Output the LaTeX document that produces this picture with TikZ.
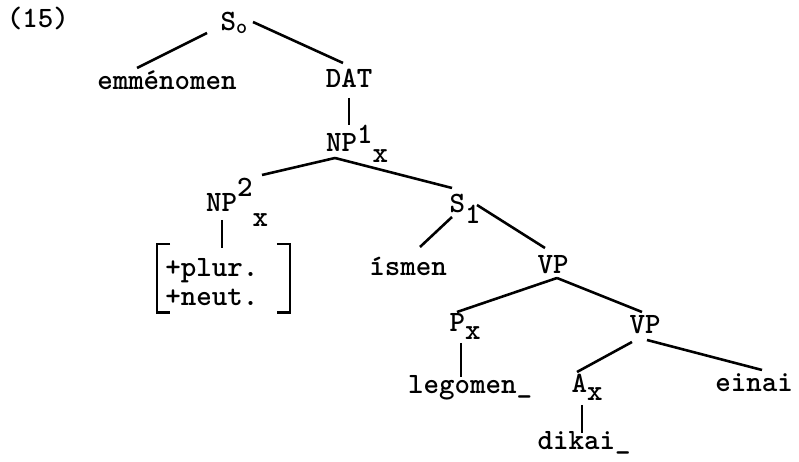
\documentclass[tikz,border=0pt]{standalone}
\usepackage{tikz}
\usetikzlibrary{positioning}

% typewriter style raised/lowered indices
\newcommand{\low}[2][4.3pt]{\raisebox{-#1}{#2}}
\newcommand{\high}[2][3.8pt]{\raisebox{#1}{#2}}

\tikzset{
  cat/.style={anchor=base, inner sep=1pt, font=\fontsize{12.6}{12.2}\selectfont\ttfamily\bfseries},
  branch/.style={line width=1.1pt},
  bracket/.style={line width=1.1pt},
}

\begin{document}
\begin{tikzpicture}[x=0.015cm, y=-0.015cm]
\useasboundingbox (0,0) rectangle (799,462);

\node[cat] (ex) at (38,28) {(15)};

% the tree
\node[cat] (s0) at (234,31) {S\low[1pt]{\small o}};
\node[cat] (emm) at (167,90) {emménomen};
\node[cat] (dat) at (349,88) {DAT};
\node[cat] (np1) at (357,152) {NP\high{1}\low{x}};
\node[cat] (np2) at (237,212) {NP\high[6.4pt]{2}\low[6.4pt]{x}};
\node[cat, anchor=north west, inner sep=0pt, align=left] (feat) at (165,258) {+plur.\\+neut.};
\node[cat] (s1) at (465,213) {S\low{1}};
\node[cat] (ism) at (408,276) {ísmen};
\node[cat] (vp1) at (553,274) {VP};
\node[cat] (px) at (465,332) {P\low[3.4pt]{x}};
\node[cat] (vp2) at (645,334) {VP};
\node[cat] (leg) at (470,394) {legomen\_};
\node[cat] (ax) at (587,393) {A\low[3pt]{x}};
\node[cat] (einai) at (754,392) {einai};
\node[cat] (dikai) at (584,450) {dikai\_};

% branches
\draw[branch] ([shift={(-27,2)}]s0.base) -- ([shift={(-30,-22)}]emm.base);
\draw[branch] ([shift={(19,-9)}]s0.base) -- ([shift={(-6,-25)}]dat.base);
\draw[branch] ([shift={(0,10)}]dat.base) -- ([shift={(-8,-27)}]np1.base);
\draw[branch] ([shift={(-22,6)}]np1.base) -- ([shift={(25,-37)}]np2.base);
\draw[branch] ([shift={(-22,6)}]np1.base) -- ([shift={(-13,-25)}]s1.base);
\draw[branch] ([shift={(-15,8)}]np2.base) -- ([shift={(57,-10)}]feat.north west);
\draw[branch] ([shift={(-13,4)}]s1.base) -- ([shift={(12,-29)}]ism.base);
\draw[branch] ([shift={(12,-8)}]s1.base) -- ([shift={(-8,-26)}]vp1.base);
\draw[branch] ([shift={(4,4)}]vp1.base) -- ([shift={(-8,-20)}]px.base);
\draw[branch] ([shift={(4,4)}]vp1.base) -- ([shift={(-3,-22)}]vp2.base);
\draw[branch] ([shift={(-4,11)}]px.base) -- ([shift={(-9,-17)}]leg.base);
\draw[branch] ([shift={(-13,8)}]vp2.base) -- ([shift={(-10,-21)}]ax.base);
\draw[branch] ([shift={(2,6)}]vp2.base) -- ([shift={(8,-22)}]einai.base);
\draw[branch] ([shift={(-5,12)}]ax.base) -- ([shift={(-2,-17)}]dikai.base);

% feature brackets
\draw[bracket] ([shift={(5,-14)}]feat.north west) -| ([shift={(-8,7)}]feat.south west) -- ++(13,0);
\draw[bracket] ([shift={(18,-14)}]feat.north east) -| ([shift={(31,7)}]feat.south east) -- ++(-13,0);
\end{tikzpicture}
\end{document}
